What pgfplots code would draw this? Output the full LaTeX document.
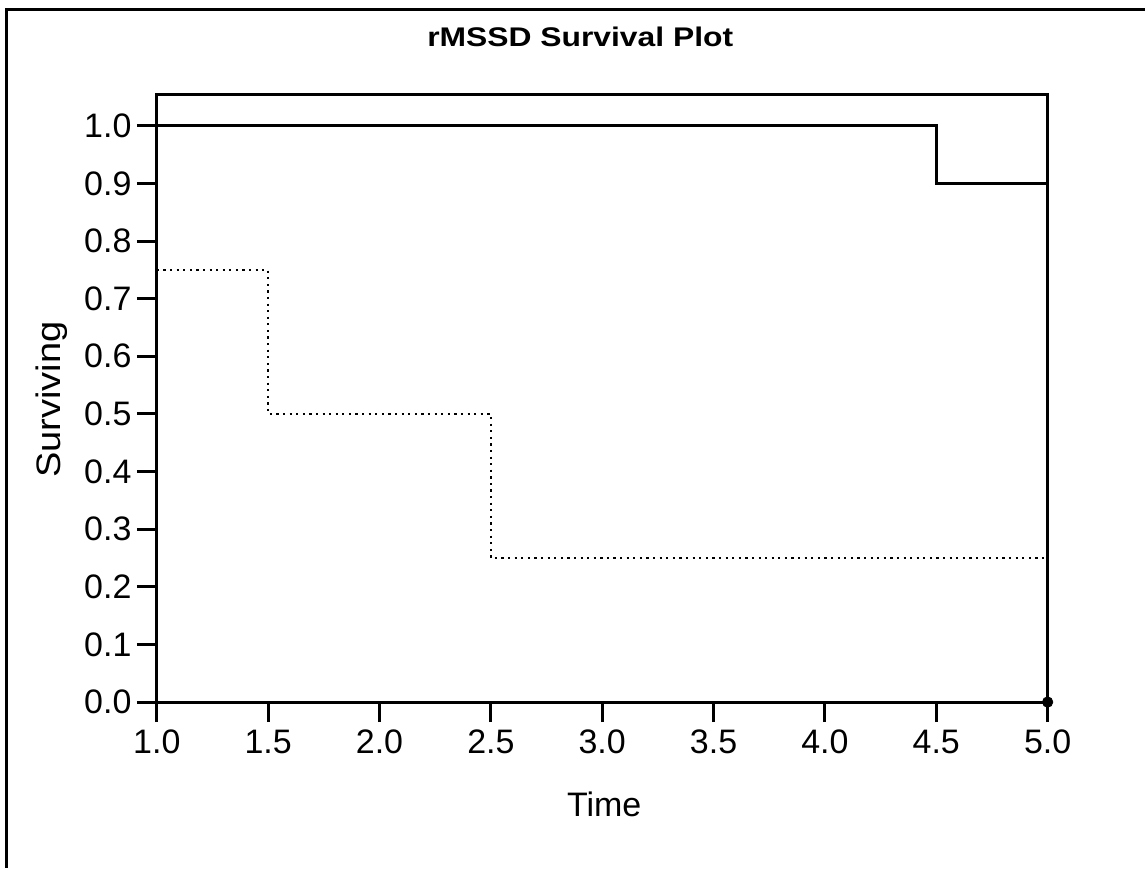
\documentclass[border=0pt]{standalone}
\usepackage{pgfplots}
\pgfplotsset{compat=1.18}
\usepackage{fontspec}
\setmainfont{Liberation Sans}
\usepackage{graphicx}
\begin{document}
\begin{tikzpicture}
\path (0pt,0pt) rectangle (573pt,434.5pt);
\draw[line width=1.5pt] (3.5pt,0pt) -- (3.5pt,429.5pt) -- (573pt,429.5pt);
\begin{axis}[at={(78.5pt,83pt)}, anchor=south west, scale only axis,
  width=446pt, height=304pt,
  xmin=1, xmax=5, ymin=0, ymax=1.0537,
  xtick={1,1.5,2,2.5,3,3.5,4,4.5,5},
  ytick={0,0.1,0.2,0.3,0.4,0.5,0.6,0.7,0.8,0.9,1.0},
  /pgf/number format/.cd, fixed, fixed zerofill, precision=1, assume math mode=true, /pgfplots/.cd,
  tick label style={font=\fontsize{17}{17}\selectfont},
  yticklabel style={inner xsep=2.5pt},
  xticklabel style={text height=12.5pt, inner ysep=3pt},
  axis line style={line width=1.5pt},
  every tick/.style={black, line width=1.5pt},
  major tick length=10pt, tick align=outside,
  xtick pos=bottom, ytick pos=left,
  clip=false]
\addplot[line width=1.5pt, black] coordinates {(1,1) (4.5,1) (4.5,0.9) (5,0.9) (5,0)};
\addplot[line width=1.2pt, black, dash pattern=on 1.1pt off 2.2pt] coordinates {(1,0.75) (1.5,0.75) (1.5,0.5) (2.5,0.5) (2.5,0.25) (5,0.25)};
\addplot[only marks, mark=*, mark size=2.6pt, black] coordinates {(5,0)};
\end{axis}
\node[anchor=base] at (290.5pt,411pt) {\scalebox{1.18}[1]{\fontsize{13.5}{13.5}\selectfont\bfseries rMSSD Survival Plot}};
\node[anchor=base, inner sep=0pt] at (302.5pt,25.5pt) {\fontsize{17}{17}\selectfont Time};
\node[anchor=base, rotate=90, inner sep=0pt] at (30.5pt,234.5pt) {\scalebox{1.12}[1]{\fontsize{17}{17}\selectfont Surviving}};
\end{tikzpicture}
\end{document}
